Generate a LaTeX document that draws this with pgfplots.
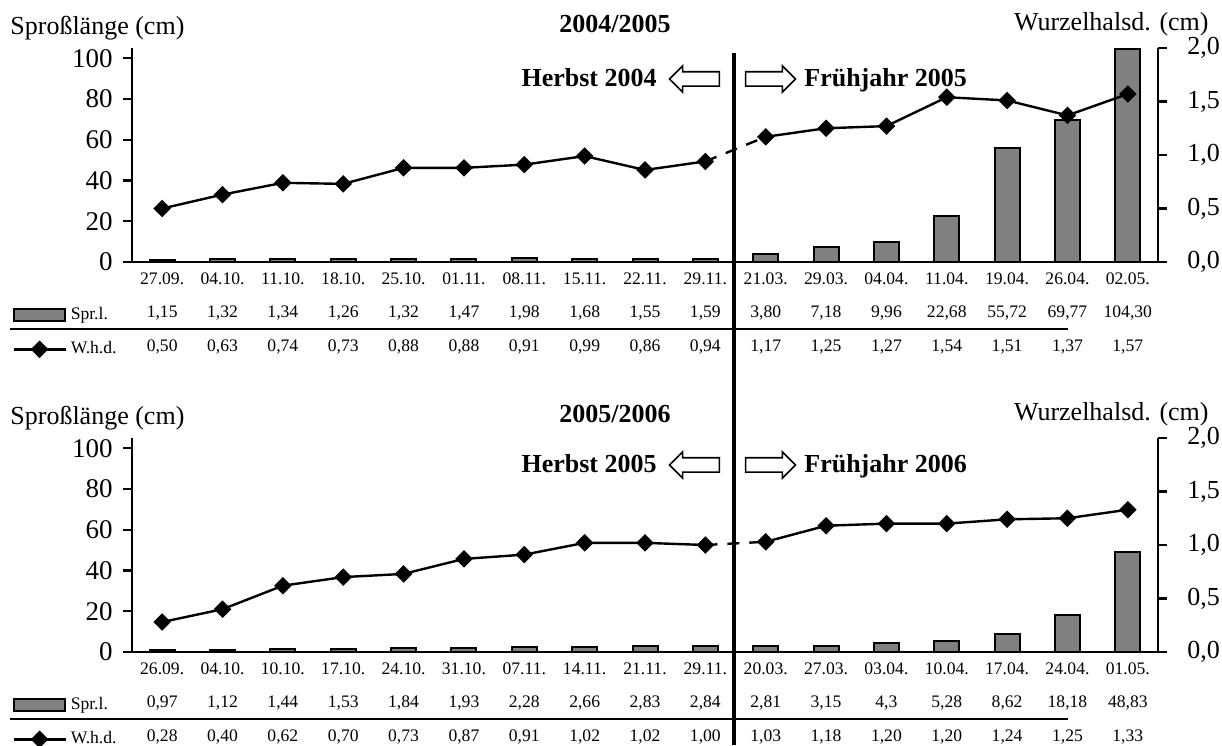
\documentclass[border=0pt]{standalone}
\usepackage{fontspec}
\setmainfont{Liberation Serif}
\usepackage{pgfplots}
\usepackage{pgfplotstable}
\pgfplotsset{compat=1.18}
\usetikzlibrary{shapes.arrows}

\definecolor{barfill}{RGB}{128,128,128}

% Spr.l. = Sprosslaenge (cm), W.h.d. = Wurzelhalsdurchmesser (cm)
\pgfplotstableread{
x spr whd
0 1.15 0.50
1 1.32 0.63
2 1.34 0.74
3 1.26 0.73
4 1.32 0.88
5 1.47 0.88
6 1.98 0.91
7 1.68 0.99
8 1.55 0.86
9 1.59 0.94
10 3.80 1.17
11 7.18 1.25
12 9.96 1.27
13 22.68 1.54
14 55.72 1.51
15 69.77 1.37
16 104.30 1.57
}\datatop

\pgfplotstableread{
x spr whd
0 0.97 0.28
1 1.12 0.40
2 1.44 0.62
3 1.53 0.70
4 1.84 0.73
5 1.93 0.87
6 2.28 0.91
7 2.66 1.02
8 2.83 1.02
9 2.84 1.00
10 2.81 1.03
11 3.15 1.18
12 4.3 1.20
13 5.28 1.20
14 8.62 1.24
15 18.18 1.25
16 48.83 1.33
}\databot

\newcommand\tabfont{\fontsize{8.8}{16.8}\selectfont}
\newcommand\tickfont{\fontsize{13.5}{16}\selectfont}
\newcommand\labfont{\fontsize{13}{15}\selectfont}

\pgfplotsset{
  panel/.style={scale only axis, width=513pt, height=107pt,
    xmin=-0.5, xmax=16.5, clip=false,
    axis line style={line width=1.2pt},
    tick align=outside, major tick length=4.5pt,
    every tick/.style={black, line width=1.2pt},
    /pgf/number format/assume math mode=true},
  barax/.style={panel, ymin=0, ymax=105,
    axis y line*=left, axis x line*=bottom,
    ytick={0,20,40,60,80,100},
    yticklabel style={font=\tickfont, inner sep=1pt, xshift=-4pt},
    xtick={0,...,16}, xtick style={draw=none},
    xticklabel style={font=\tabfont, align=center, inner sep=0pt, yshift=-0.5pt},
    legend style={at={(-0.117,-0.192)}, anchor=north west, draw=none, fill=none,
      font=\tabfont, row sep=5.5pt, inner sep=0pt},
    legend cell align=left},
  lineax/.style={panel, ymin=0, ymax=2,
    axis y line*=right, axis x line=none,
    ytick={0,0.5,1,1.5,2},
    yticklabel style={font=\labfont, inner sep=0pt, xshift=10pt,
      /pgf/number format/use comma, /pgf/number format/fixed,
      /pgf/number format/fixed zerofill, /pgf/number format/precision=1}},
  sprbar/.style={ybar, bar width=12.5pt, fill=barfill, draw=black, line width=1pt,
    legend image code/.code={\draw[fill=barfill, draw=black, line width=1pt] (0pt,-3pt) rectangle (25.5pt,3pt);}},
  whd/.style={black, line width=1.2pt, mark=square*, mark size=2.5pt,
    mark options={rotate=45, solid}},
  whdgap/.style={black, line width=1.2pt, dash pattern=on 6pt off 5pt, mark=none},
  legline/.style={legend image code/.code={\draw[mark repeat=2, mark phase=2, ##1] plot coordinates {(0pt,0pt) (13pt,0pt) (26pt,0pt)};}}
}
\tikzset{
  harrow/.style={single arrow, draw=black, fill=white, line width=0.8pt,
    minimum height=25pt, single arrow head extend=3pt, inner xsep=0pt,
    inner ysep=3.2pt, single arrow tip angle=90}
}

\begin{document}
\begin{tikzpicture}
\path[use as bounding box] (0pt,0pt) rectangle (611pt,372.5pt);

% ---- 2004/2005 ----
\begin{axis}[barax, at={(66pt,241.5pt)}, anchor=south west,
  xticklabels={{27.09.\\1,15\\0,50},{04.10.\\1,32\\0,63},{11.10.\\1,34\\0,74},{18.10.\\1,26\\0,73},{25.10.\\1,32\\0,88},{01.11.\\1,47\\0,88},{08.11.\\1,98\\0,91},{15.11.\\1,68\\0,99},{22.11.\\1,55\\0,86},{29.11.\\1,59\\0,94},{21.03.\\3,80\\1,17},{29.03.\\7,18\\1,25},{04.04.\\9,96\\1,27},{11.04.\\22,68\\1,54},{19.04.\\55,72\\1,51},{26.04.\\69,77\\1,37},{02.05.\\104,30\\1,57}}]
\addplot[sprbar] table[x=x, y=spr] {\datatop};
\addlegendentry{Spr.l.}
\addlegendimage{whd, legline}
\addlegendentry{W.h.d.}
\end{axis}
\begin{axis}[lineax, at={(66pt,241.5pt)}, anchor=south west]
\addplot[whdgap, restrict x to domain=9:10] table[x=x, y=whd] {\datatop};
\addplot[whd, restrict x to domain=0:9] table[x=x, y=whd] {\datatop};
\addplot[whd, restrict x to domain=10:16] table[x=x, y=whd] {\datatop};
\end{axis}

% ---- 2005/2006 ----
\begin{axis}[barax, at={(66pt,46.5pt)}, anchor=south west,
  xticklabels={{26.09.\\0,97\\0,28},{04.10.\\1,12\\0,40},{10.10.\\1,44\\0,62},{17.10.\\1,53\\0,70},{24.10.\\1,84\\0,73},{31.10.\\1,93\\0,87},{07.11.\\2,28\\0,91},{14.11.\\2,66\\1,02},{21.11.\\2,83\\1,02},{29.11.\\2,84\\1,00},{20.03.\\2,81\\1,03},{27.03.\\3,15\\1,18},{03.04.\\4,3\\1,20},{10.04.\\5,28\\1,20},{17.04.\\8,62\\1,24},{24.04.\\18,18\\1,25},{01.05.\\48,83\\1,33}}]
\addplot[sprbar] table[x=x, y=spr] {\databot};
\addlegendentry{Spr.l.}
\addlegendimage{whd, legline}
\addlegendentry{W.h.d.}
\end{axis}
\begin{axis}[lineax, at={(66pt,46.5pt)}, anchor=south west]
\addplot[whdgap, restrict x to domain=9:10] table[x=x, y=whd] {\databot};
\addplot[whd, restrict x to domain=0:9] table[x=x, y=whd] {\databot};
\addplot[whd, restrict x to domain=10:16] table[x=x, y=whd] {\databot};
\end{axis}

% annotations, in pixel units of the reference (y downwards)
\begin{scope}[x=0.5pt, y=-0.5pt, shift={(0pt,372.5pt)}]
\foreach \dy/\dh/\yrs/\ya/\yb in {0/0/2004\slash 2005/2004/2005, 390/386/2005\slash 2006/2005/2006} {
  \node[anchor=base west, font=\labfont, inner sep=0pt] at (10,35+\dy) {Sproßlänge (cm)};
  \node[anchor=base, font=\labfont\bfseries, inner sep=0pt] at (615,33+\dy) {\yrs};
  \node[anchor=base east, font=\labfont, inner sep=0pt] at (1209,31+\dy) {Wurzelhalsd. (cm)};
  \node[anchor=base east, font=\labfont\bfseries, inner sep=0pt] at (657,87+\dh) {Herbst \ya};
  \node[anchor=base west, font=\labfont\bfseries, inner sep=0pt] at (804,87+\dh) {Frühjahr \yb};
  \node[harrow, shape border rotate=180] at (698,79+\dh) {};
  \node[harrow] at (767,79+\dh) {};
  \draw[line width=1pt] (10,329+\dy) -- (1068,329+\dy);
}
\draw[line width=1.8pt] (734,53) -- (734,745);
\end{scope}
\end{tikzpicture}
\end{document}
